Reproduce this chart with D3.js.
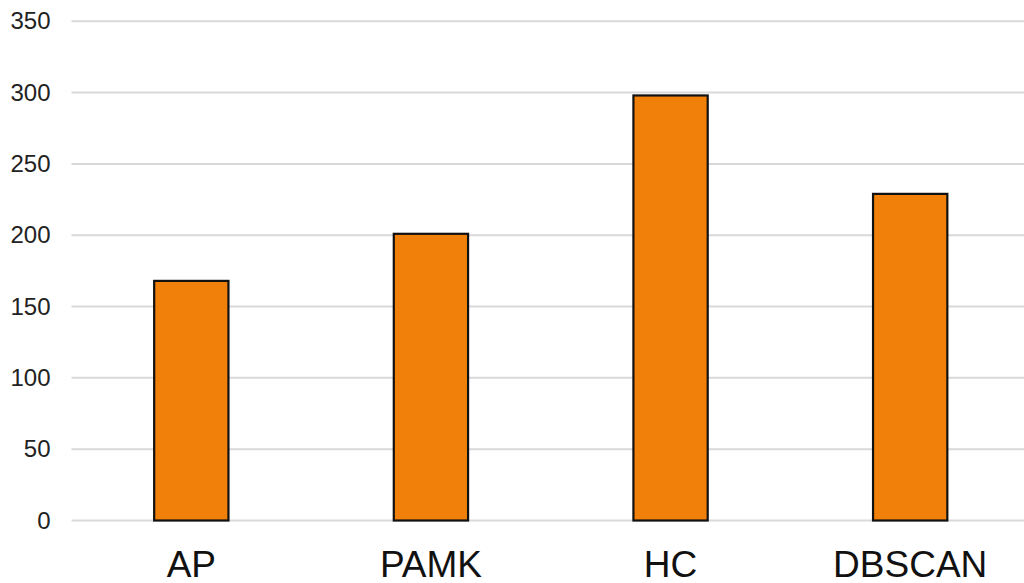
<!DOCTYPE html>
<html>
<head>
<meta charset="utf-8">
<script src="https://cdn.jsdelivr.net/npm/d3@7"></script>
<style>
  html, body { margin: 0; padding: 0; background: #fff; }
  svg { display: block; font-family: "Liberation Sans", Arial, sans-serif; }
</style>
</head>
<body>
<svg id="chart" width="1024" height="583"></svg>
<script>
const categories = ["AP", "PAMK", "HC", "DBSCAN"];
const values = [168, 201, 298, 229];
const yTicks = [0, 50, 100, 150, 200, 250, 300, 350];

(function () {
const svg = d3.select("#chart");
const mLeft = 71.5, mRight = 1030, mTop = 21.3, mBottom = 520.5;

const x = d3.scaleBand().domain(categories).range([mLeft, mRight])
  .paddingInner(0.69).paddingOuter(0.345);
const y = d3.scaleLinear().domain([0, 350]).range([mBottom, mTop]);

// gridlines
svg.append("g").selectAll("line").data(yTicks).join("line")
  .attr("x1", mLeft).attr("x2", mRight)
  .attr("y1", d => y(d)).attr("y2", d => y(d))
  .attr("stroke", "#d9d9d9").attr("stroke-width", 2);

// y axis labels
const yAxis = d3.axisLeft(y).tickValues(yTicks).tickSize(0).tickPadding(21);
const yg = svg.append("g").attr("transform", `translate(${mLeft},0)`).call(yAxis);
yg.select(".domain").remove();
yg.selectAll("text").attr("font-size", 24).attr("fill", "#222")
  .attr("font-family", "Liberation Sans, Arial, sans-serif");

// bars
svg.append("g").selectAll("rect").data(values).join("rect")
  .attr("x", (d, i) => x(categories[i]))
  .attr("width", x.bandwidth())
  .attr("y", d => y(d))
  .attr("height", d => y(0) - y(d))
  .attr("fill", "#F0800A")
  .attr("stroke", "#111")
  .attr("stroke-width", 2.2);

// x axis labels
const xAxis = d3.axisBottom(x).tickSize(0).tickPadding(0);
const xg = svg.append("g").attr("transform", `translate(0,${mBottom})`).call(xAxis);
xg.select(".domain").remove();
xg.selectAll("text").attr("font-size", 37).attr("fill", "#111")
  .attr("dy", null).attr("y", 56)
  .attr("font-family", "Liberation Sans, Arial, sans-serif");
})();
</script>
</body>
</html>
